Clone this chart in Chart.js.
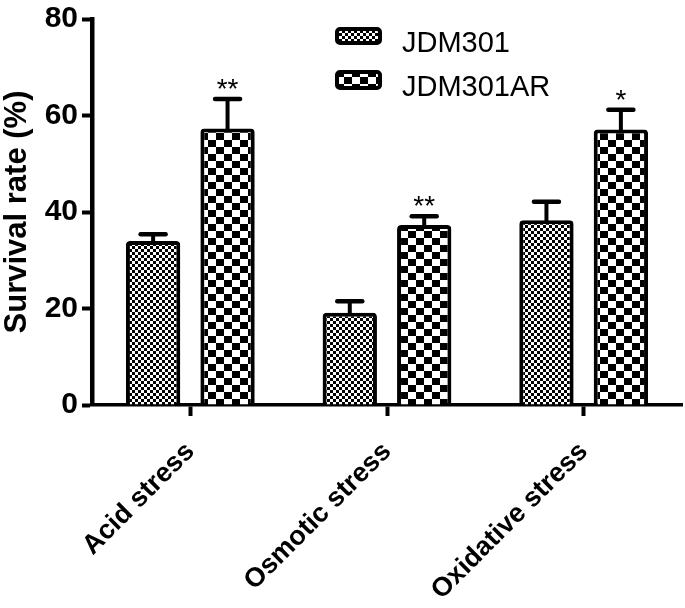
<!DOCTYPE html>
<html><head><meta charset="utf-8">
<script src="https://cdn.jsdelivr.net/npm/chart.js@4.4.0/dist/chart.umd.min.js"></script>
<style>html,body{margin:0;padding:0;background:#fff}#wrap{position:relative;width:685px;height:608px}</style>
</head><body><div id="wrap"><canvas id="c"></canvas></div>
<script>
// ---- data ----
const categories = ['Acid stress', 'Osmotic stress', 'Oxidative stress'];
const seriesNames = ['JDM301', 'JDM301AR'];
const jdm301 = [34.0, 19.1, 38.3];
const jdm301ar = [57.3, 37.3, 57.1];
const jdm301Err = [1.4, 2.4, 3.8];
const jdm301arErr = [6.1, 1.8, 4.1];
const jdm301Stars = ['', '', ''];
const jdm301arStars = ['**', '**', '*'];
const yTicks = [0, 20, 40, 60, 80];
const yTitle = 'Survival rate (%)';

const FONT = '"Liberation Sans", Arial, Helvetica, sans-serif';
Chart.defaults.font.family = FONT;
Chart.defaults.color = '#000';

function makeChecker(cw, ch) {
  const c = document.createElement('canvas');
  c.width = cw * 2; c.height = ch * 2;
  const g = c.getContext('2d');
  g.fillStyle = '#fff'; g.fillRect(0, 0, c.width, c.height);
  g.fillStyle = '#000';
  g.fillRect(0, 0, cw, ch); g.fillRect(cw, ch, cw, ch);
  return g.createPattern(c, 'repeat');
}
const finePattern = makeChecker(3, 3);
const coarsePattern = makeChecker(8, 7);

const errorPlugin = {
  id: 'errbars',
  afterDatasetsDraw(chart) {
    const ctx = chart.ctx, ys = chart.scales.y;
    chart.data.datasets.forEach((ds, di) => {
      const meta = chart.getDatasetMeta(di);
      meta.data.forEach((bar, i) => {
        const v = ds.data[i], e = ds.errors[i];
        const top = ys.getPixelForValue(v + e);
        const base = ys.getPixelForValue(v);
        ctx.save();
        ctx.strokeStyle = '#000';
        ctx.lineWidth = 4; ctx.lineCap = 'butt';
        ctx.beginPath(); ctx.moveTo(bar.x, base + 2); ctx.lineTo(bar.x, top); ctx.stroke();
        ctx.lineWidth = 4.5; ctx.lineCap = 'round';
        ctx.beginPath(); ctx.moveTo(bar.x - 12.5, top); ctx.lineTo(bar.x + 12.5, top); ctx.stroke();
        if (ds.stars && ds.stars[i]) {
          ctx.fillStyle = '#000';
          ctx.font = '28px ' + FONT;
          ctx.textAlign = 'center'; ctx.textBaseline = 'alphabetic';
          ctx.fillText(ds.stars[i], bar.x, top - 1);
        }
        ctx.restore();
      });
    });
  }
};

const legendPlugin = {
  id: 'vlegend',
  afterDraw(chart) {
    const ctx = chart.ctx, ca = chart.chartArea;
    const bx = ca.left + 245, bw = 43;
    const rows = [{y: 29, h: 14, base: 52}, {y: 72, h: 16, base: 95.5}];
    chart.data.datasets.forEach((ds, i) => {
      const r = rows[i];
      ctx.save();
      ctx.beginPath();
      ctx.roundRect(bx, r.y, bw, r.h, 3);
      ctx.fillStyle = ds.backgroundColor; ctx.fill();
      ctx.lineWidth = 4; ctx.strokeStyle = '#000'; ctx.stroke();
      ctx.fillStyle = '#000';
      ctx.font = '29px ' + FONT;
      ctx.textAlign = 'left'; ctx.textBaseline = 'alphabetic';
      ctx.fillText(ds.label, bx + bw + 22, r.base);
      ctx.restore();
    });
  }
};

new Chart(document.getElementById('c'), {
  type: 'bar',
  data: {
    labels: categories,
    datasets: [
      {label: seriesNames[0], data: jdm301, errors: jdm301Err, stars: jdm301Stars,
       backgroundColor: finePattern, borderColor: '#000', borderWidth: 4, borderRadius: 4, borderSkipped: 'start',
       categoryPercentage: 0.757, barPercentage: 0.73},
      {label: seriesNames[1], data: jdm301ar, errors: jdm301arErr, stars: jdm301arStars,
       backgroundColor: coarsePattern, borderColor: '#000', borderWidth: 4, borderRadius: 4, borderSkipped: 'start',
       categoryPercentage: 0.757, barPercentage: 0.73}
    ]
  },
  options: {
    responsive: true, maintainAspectRatio: false, animation: false,
    layout: {padding: {top: 14, right: 3, left: 0, bottom: 0}},
    plugins: {legend: {display: false}, tooltip: {enabled: false}},
    scales: {
      x: {
        grid: {display: true, drawOnChartArea: false, offset: false, tickLength: 11, tickWidth: 4, tickColor: '#000', color: '#000'},
        border: {display: true, color: '#000', width: 3.5},
        ticks: {color: '#000', font: {size: 27, weight: 'bold'}, minRotation: 45, maxRotation: 45, padding: 20, autoSkip: false},
        afterFit: s => { s.height = 203; }
      },
      y: {
        min: 0, max: 80,
        afterBuildTicks: s => { s.ticks = yTicks.map(v => ({value: v})); },
        grid: {display: true, drawOnChartArea: false, tickLength: 10, tickWidth: 4, tickColor: '#000', color: '#000'},
        border: {display: true, color: '#000', width: 4.5},
        ticks: {color: '#000', font: {size: 30, weight: 'bold', lineHeight: 1}, padding: 4},
        title: {display: true, text: yTitle, color: '#000', font: {size: 31, weight: 'bold', lineHeight: 1.1}, padding: 0},
        afterFit: s => { s.width = 92; }
      }
    }
  },
  plugins: [errorPlugin, legendPlugin]
});
</script></body></html>
